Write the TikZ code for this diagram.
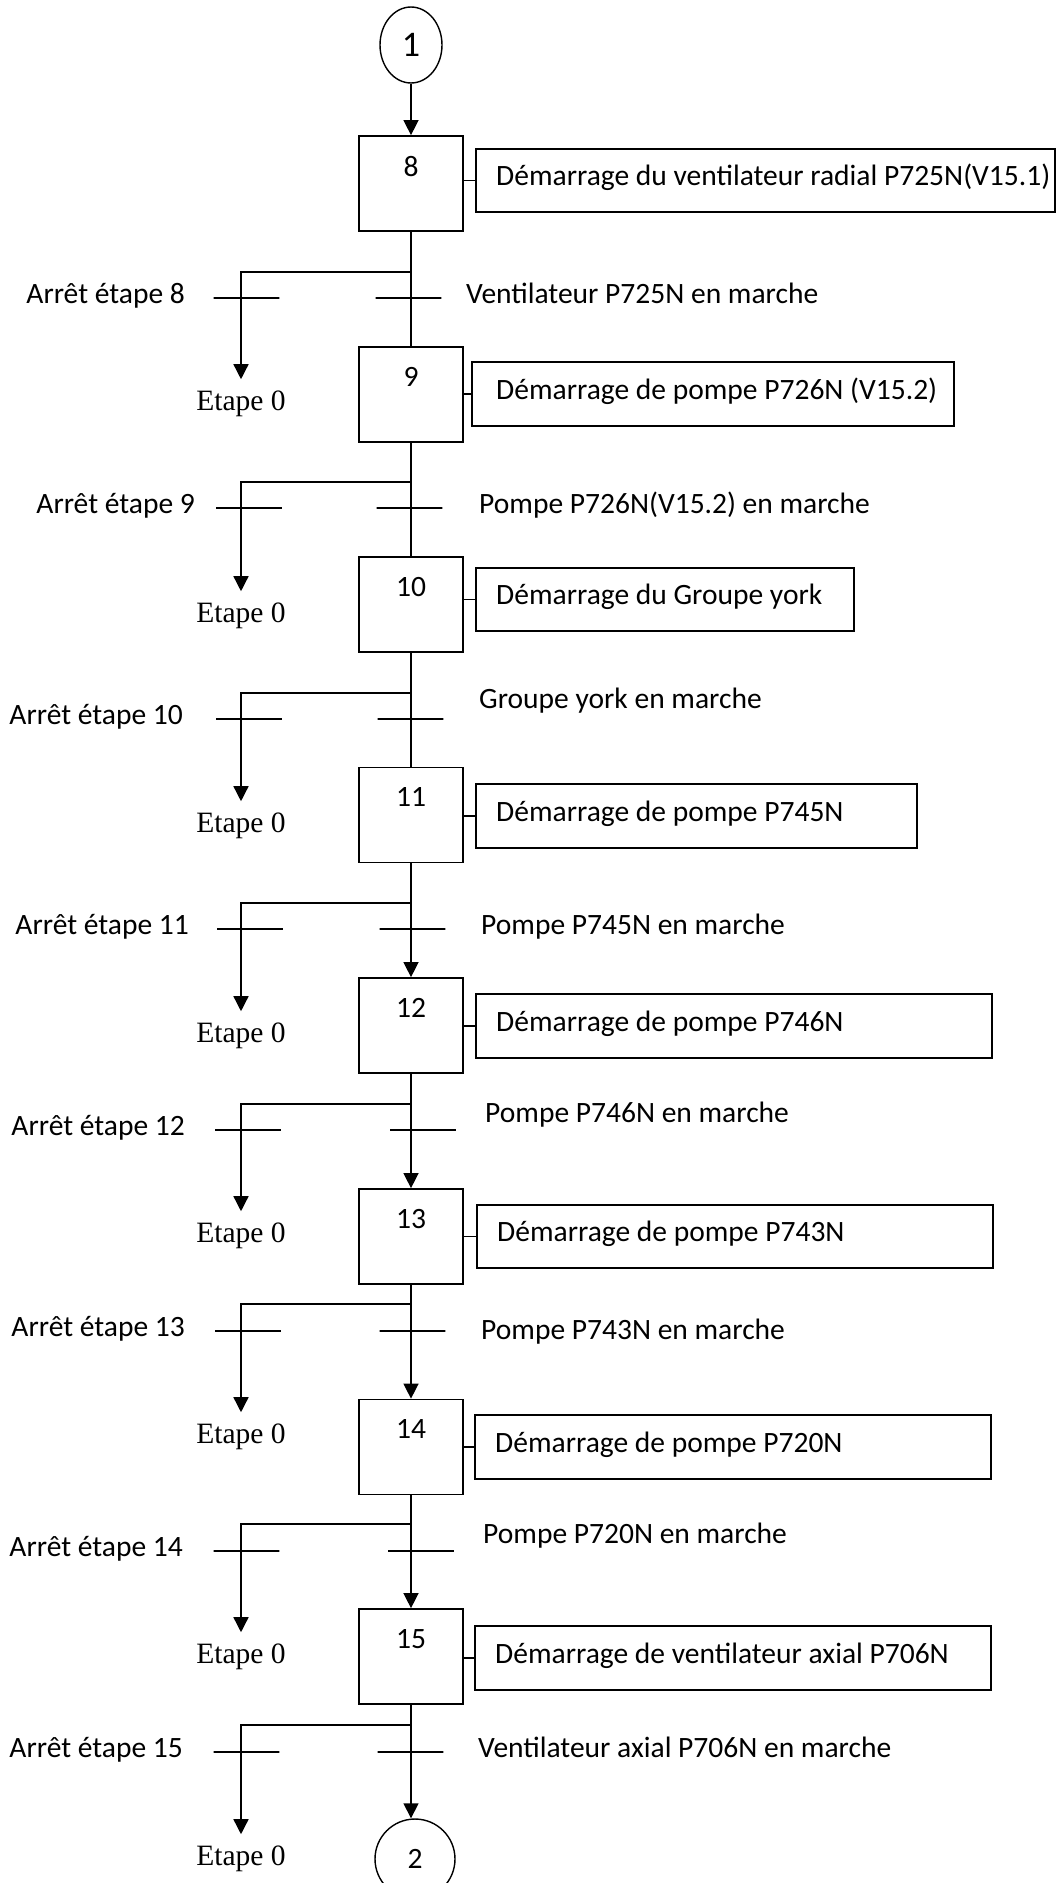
\documentclass[tikz,border=0pt]{standalone}
\usepackage{fontspec}
\setmainfont{Carlito}
\newfontfamily\etapefont{Liberation Serif}
\usetikzlibrary{positioning,arrows.meta,shapes.geometric}

\begin{document}
\begin{tikzpicture}[
    x=0.02cm, y=-0.02cm,
    every node/.style={font=\fontsize{16.8}{20}\selectfont},
    renvoi/.style={draw, ellipse, line width=0.8pt, minimum width=1.24cm, minimum height=1.52cm, inner sep=0pt},
    etape/.style={draw, rectangle, line width=1pt, minimum width=2.08cm, minimum height=1.9cm},
    num/.style={anchor=north, yshift=-0.3cm},
    action/.style={draw, rectangle, line width=1pt, anchor=west, minimum height=1.27cm, minimum width=#1},
    texte/.style={text height=1.5ex, text depth=0.25ex},
    trans/.style={draw, rectangle, line width=0.8pt, minimum width=1.32cm, minimum height=0pt, inner sep=0pt},
    cond/.style={texte, anchor=west},
    arret/.style={texte, anchor=east},
    retour/.style={texte, anchor=base, font=\etapefont\fontsize{16.8}{20}\selectfont},
    lien/.style={line width=0.8pt},
    fleche/.style={line width=0.8pt, -{Triangle[width=0.3cm, length=0.3cm]}},
    vers0/.style={fleche, shorten >=0.24cm}
]
\useasboundingbox (0,0) rectangle (1056,1883);

\node[renvoi, font=\fontsize{20.5}{24}\selectfont] (r1) at (411,45) {1};

\node[etape, label={[num]north:8}] (s8) at (411,183.5) {};
\node[action=11.58cm] (a8) at (475,180.5) {};
\node[texte, right=0.3cm of a8.west] (t8) {Démarrage du ventilateur radial P725N(V15.1)};
\coordinate (b8) at (411,272);
\node[trans] (g8) at (246.5,298) {};
\node[trans] (d8) at (408.5,298) {};
\node[arret] (n8) at (191,298) {Arrêt étape 8};
\node[cond] (c8) at (460,298) {Ventilateur P725N en marche};
\node[retour] (z8) at (241,410) {Etape 0};

\node[etape, label={[num]north:9}] (s9) at (411,394.5) {};
\node[action=9.64cm] (a9) at (471,394) {};
\node[texte, right=0.38cm of a9.west] (t9) {Démarrage de pompe P726N (V15.2)};
\coordinate (b9) at (411,482);
\node[trans] (g9) at (249,508) {};
\node[trans] (d9) at (409.5,508) {};
\node[arret] (n9) at (201,508) {Arrêt étape 9};
\node[cond] (c9) at (473,508) {Pompe P726N(V15.2) en marche};
\node[retour] (z9) at (241,622) {Etape 0};

\node[etape, label={[num]north:10}] (s10) at (411,604.5) {};
\node[action=7.56cm] (a10) at (475,599.5) {};
\node[texte, right=0.3cm of a10.west] (t10) {Démarrage du Groupe york};
\coordinate (b10) at (411,693);
\node[trans] (g10) at (249,719) {};
\node[trans] (d10) at (410.5,719) {};
\node[arret] (n10) at (189,719) {Arrêt étape 10};
\node[cond] (c10) at (473,703) {Groupe york en marche};
\node[retour] (z10) at (241,832) {Etape 0};

\node[etape, label={[num]north:11}] (s11) at (411,815) {};
\node[action=8.82cm] (a11) at (475,816) {};
\node[texte, right=0.3cm of a11.west] (t11) {Démarrage de pompe P745N};
\coordinate (b11) at (411,903);
\node[trans] (g11) at (250,929) {};
\node[trans] (d11) at (412.5,929) {};
\node[arret] (n11) at (195,929) {Arrêt étape 11};
\node[cond] (c11) at (475,929) {Pompe P745N en marche};
\node[retour] (z11) at (241,1042) {Etape 0};

\node[etape, label={[num]north:12}] (s12) at (411,1025.5) {};
\node[action=10.32cm] (a12) at (475,1026) {};
\node[texte, right=0.3cm of a12.west] (t12) {Démarrage de pompe P746N};
\coordinate (b12) at (411,1104);
\node[trans] (g12) at (248,1130) {};
\node[trans] (d12) at (423,1130) {};
\node[arret] (n12) at (191,1130) {Arrêt étape 12};
\node[cond] (c12) at (479,1117) {Pompe P746N en marche};
\node[retour] (z12) at (241,1242) {Etape 0};

\node[etape, label={[num]north:13}] (s13) at (411,1236.5) {};
\node[action=10.32cm] (a13) at (476,1236.5) {};
\node[texte, right=0.3cm of a13.west] (t13) {Démarrage de pompe P743N};
\coordinate (b13) at (411,1304);
\node[trans] (g13) at (248,1331) {};
\node[trans] (d13) at (412.5,1331) {};
\node[arret] (n13) at (191,1331) {Arrêt étape 13};
\node[cond] (c13) at (475,1334) {Pompe P743N en marche};
\node[retour] (z13) at (241,1443) {Etape 0};

\node[etape, label={[num]north:14}] (s14) at (411,1447) {};
\node[action=10.32cm] (a14) at (474,1447) {};
\node[texte, right=0.3cm of a14.west] (t14) {Démarrage de pompe P720N};
\coordinate (b14) at (411,1524);
\node[trans] (g14) at (246.5,1551) {};
\node[trans] (d14) at (421,1551) {};
\node[arret] (n14) at (189,1551) {Arrêt étape 14};
\node[cond] (c14) at (477,1538) {Pompe P720N en marche};
\node[retour] (z14) at (241,1663) {Etape 0};

\node[etape, label={[num]north:15}] (s15) at (411,1656.5) {};
\node[action=10.32cm] (a15) at (474,1658) {};
\node[texte, right=0.3cm of a15.west] (t15) {Démarrage de ventilateur axial P706N};
\coordinate (b15) at (411,1725);
\node[trans] (g15) at (246.5,1752) {};
\node[trans] (d15) at (410.5,1752) {};
\node[arret] (n15) at (189,1752) {Arrêt étape 15};
\node[cond] (c15) at (472,1752) {Ventilateur axial P706N en marche};
\node[retour] (z15) at (241,1865) {Etape 0};

\node[renvoi, minimum width=1.6cm, minimum height=1.6cm] (r2) at (415,1859) {2};

\draw[fleche] (r1) -- (s8);
\draw[lien] (s8) -- (s9);
\draw[lien] (s9) -- (s10);
\draw[lien] (s10) -- (s11);
\draw[fleche] (s11) -- (s12);
\draw[fleche] (s12) -- (s13);
\draw[fleche] (s13) -- (s14);
\draw[fleche] (s14) -- (s15);
\draw[fleche] (s15.south) -- (s15.south |- r2.north);

\draw[lien] (s8.east |- a8.west) -- (a8.west);
\draw[lien] (s9.east |- a9.west) -- (a9.west);
\draw[lien] (s10.east |- a10.west) -- (a10.west);
\draw[lien] (s11.east |- a11.west) -- (a11.west);
\draw[lien] (s12.east |- a12.west) -- (a12.west);
\draw[lien] (s13.east |- a13.west) -- (a13.west);
\draw[lien] (s14.east |- a14.west) -- (a14.west);
\draw[lien] (s15.east |- a15.west) -- (a15.west);

\draw[vers0] (b8) -| (z8);
\draw[vers0] (b9) -| (z9);
\draw[vers0] (b10) -| (z10);
\draw[vers0] (b11) -| (z11);
\draw[vers0] (b12) -| (z12);
\draw[vers0] (b13) -| (z13);
\draw[vers0] (b14) -| (z14);
\draw[vers0] (b15) -| (z15);
\end{tikzpicture}
\end{document}
